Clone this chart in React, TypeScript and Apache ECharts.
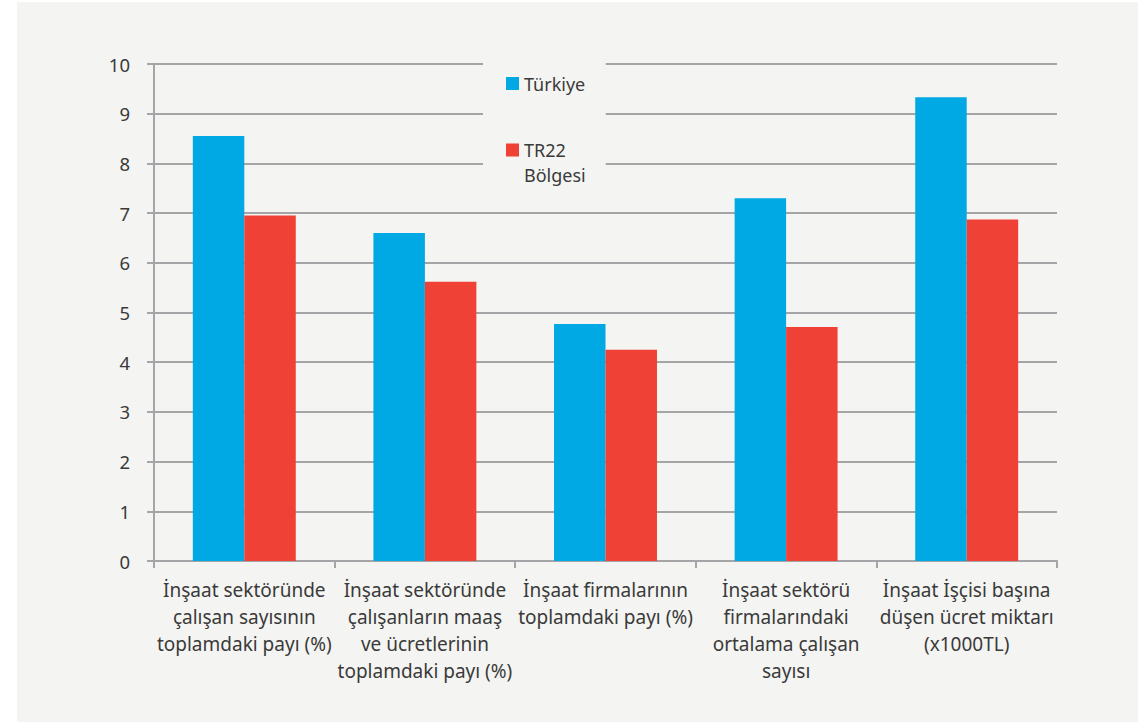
import React, { useEffect, useRef } from "react";
import * as echarts from "echarts";

const categories = [
  "İnşaat sektöründe\nçalışan sayısının\ntoplamdaki payı (%)",
  "İnşaat sektöründe\nçalışanların maaş\nve ücretlerinin\ntoplamdaki payı (%)",
  "İnşaat firmalarının\ntoplamdaki payı (%)",
  "İnşaat sektörü\nfirmalarındaki\nortalama çalışan\nsayısı",
  "İnşaat İşçisi başına\ndüşen ücret miktarı\n(x1000TL)",
];
const turkiye = [8.55, 6.6, 4.77, 7.3, 9.33];
const tr22 = [6.95, 5.62, 4.25, 4.71, 6.87];
const seriesNames = ["Türkiye", "TR22 Bölgesi"];

const FONT = "'Noto Sans', sans-serif";
const TEXT = "#3a3a3a";
const GRID = "#a5a5a7";
const BG = "#f4f4f2";

export default function App() {
  const ref = useRef<HTMLDivElement>(null);
  useEffect(() => {
    if (!ref.current) return;
    const chart = echarts.init(ref.current, undefined, { renderer: "svg" });
    chart.setOption({
      animation: false,
      backgroundColor: "#ffffff",
      textStyle: { fontFamily: FONT },
      graphic: [
        {
          type: "rect",
          z: -10,
          silent: true,
          shape: { x: 17, y: 2, width: 1121, height: 720 },
          style: { fill: BG },
        },
      ],
      grid: { left: 154, right: 81, top: 64, bottom: 161, containLabel: false },
      legend: {
        orient: "vertical",
        left: 483,
        top: 63,
        backgroundColor: BG,
        padding: [8, 20, 4, 23],
        itemWidth: 13,
        itemHeight: 13,
        itemGap: 20,
        icon: "rect",
        z: 10,
        data: seriesNames,
        formatter: (name: string) =>
          name === "TR22 Bölgesi" ? "{b|TR22\nBölgesi}" : "{a|" + name + "}",
        textStyle: {
          fontFamily: FONT,
          fontSize: 18,
          color: TEXT,
          lineHeight: 25,
          rich: {
            a: { fontFamily: FONT, fontSize: 18, color: TEXT, lineHeight: 25 },
            b: {
              fontFamily: FONT,
              fontSize: 18,
              color: TEXT,
              lineHeight: 25,
              padding: [25, 0, 0, 0],
            },
          },
        },
      },
      xAxis: {
        type: "category",
        data: categories,
        axisLine: { show: true, lineStyle: { color: GRID, width: 2 } },
        axisTick: { show: true, length: 7, lineStyle: { color: GRID, width: 2 } },
        axisLabel: {
          interval: 0,
          margin: 15,
          fontFamily: FONT,
          fontSize: 19,
          color: TEXT,
          lineHeight: 27,
          align: "center",
        },
      },
      yAxis: {
        type: "value",
        min: 0,
        max: 10,
        interval: 1,
        axisLine: { show: true, lineStyle: { color: GRID, width: 2 } },
        axisTick: { show: true, length: 7, lineStyle: { color: GRID, width: 2 } },
        axisLabel: { margin: 24, fontFamily: FONT, fontSize: 18.5, color: TEXT },
        splitLine: { show: true, lineStyle: { color: GRID, width: 2 } },
      },
      series: [
        {
          name: seriesNames[0],
          type: "bar",
          data: turkiye,
          barGap: "0%",
          barCategoryGap: "43%",
          itemStyle: { color: "#00a9e4" },
        },
        {
          name: seriesNames[1],
          type: "bar",
          data: tr22,
          itemStyle: { color: "#ef4136" },
        },
      ],
    });
    return () => chart.dispose();
  }, []);
  return (
    <div
      ref={ref}
      style={{ position: "fixed", left: 0, top: 0, width: 1138, height: 722 }}
    />
  );
}
